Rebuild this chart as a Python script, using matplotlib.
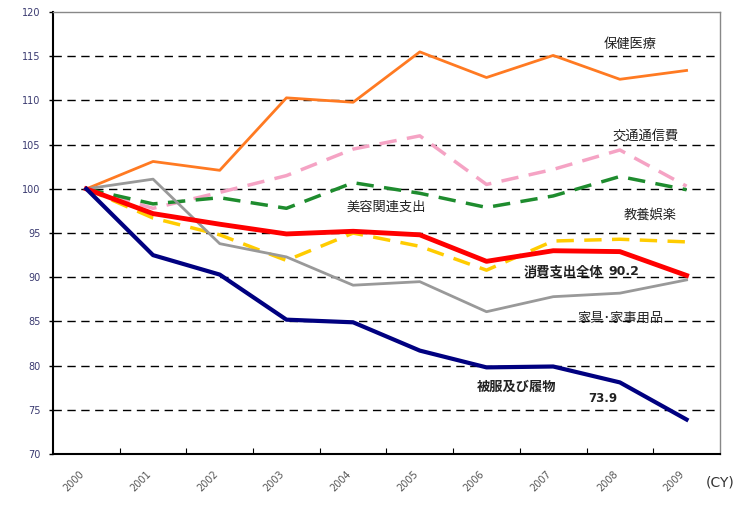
import matplotlib
matplotlib.use("Agg")
import matplotlib.pyplot as plt
import numpy as np

plt.rcParams['font.family'] = ['Noto Sans CJK JP', 'DejaVu Sans']

years = ['2000', '2001', '2002', '2003', '2004', '2005', '2006', '2007', '2008', '2009']

health = [100, 103.1, 102.1, 110.3, 109.8, 115.5, 112.6, 115.1, 112.4, 113.4]
transport = [100, 97.8, 99.6, 101.5, 104.5, 106.0, 100.5, 102.2, 104.4, 100.3]
education = [100, 98.3, 99.0, 97.8, 100.7, 99.5, 97.9, 99.2, 101.4, 99.9]
total = [100, 97.2, 96.0, 94.9, 95.2, 94.8, 91.8, 93.0, 92.9, 90.2]
beauty = [100, 96.7, 94.8, 91.9, 95.0, 93.5, 90.8, 94.1, 94.3, 94.0]
furniture = [100, 101.1, 93.8, 92.3, 89.1, 89.5, 86.1, 87.8, 88.2, 89.7]
clothing = [100, 92.5, 90.3, 85.2, 84.9, 81.7, 79.8, 79.9, 78.1, 73.9]

yticks = [70, 75, 80, 85, 90, 95, 100, 105, 110, 115, 120]

fig = plt.figure(figsize=(7.51, 5.05), dpi=100)
ax = fig.add_axes([0.0706, 0.101, 0.888, 0.875])

x = np.arange(len(years))

for v in yticks[1:-1]:
    ax.axhline(v, color='black', lw=1.0, ls=(0, (6, 4)), zorder=1)

ax.plot(x, health, color='#FF7A22', lw=2.0, zorder=3)
ax.plot(x, transport, color='#F5A3C4', lw=2.5, ls=(0, (5, 3)), zorder=3)
ax.plot(x, education, color='#1E8C2E', lw=2.5, ls=(0, (5, 3)), zorder=3)
ax.plot(x, beauty, color='#FFCC00', lw=2.5, ls=(0, (5, 3)), zorder=3)
ax.plot(x, furniture, color='#999999', lw=2.0, zorder=3)
ax.plot(x, total, color='#FF0000', lw=3.5, zorder=4)
ax.plot(x, clothing, color='#000080', lw=3.0, zorder=4)

ax.set_xlim(-0.5, 9.5)
ax.set_ylim(70, 120)
ax.set_yticks(yticks)
ax.set_yticklabels([str(v) for v in yticks], fontsize=7, color='#3A3A70', family='DejaVu Sans')
ax.tick_params(axis='y', direction='out', length=3, width=1, pad=6)

ax.set_xticks(np.arange(0.5, 9, 1.0))
ax.set_xticklabels([])
ax.tick_params(axis='x', which='major', direction='in', length=4, width=0.8)
ax.set_xticks(x, minor=True)
ax.set_xticklabels(years, minor=True, rotation=45, fontsize=7, color='#555555',
                   family='DejaVu Sans', ha='right', va='top')
ax.tick_params(axis='x', which='minor', length=0, pad=11)

for s in ['top', 'right']:
    ax.spines[s].set_color('#888888')
    ax.spines[s].set_linewidth(1.0)
for s in ['left', 'bottom']:
    ax.spines[s].set_color('black')
    ax.spines[s].set_linewidth(1.5)

tk = dict(fontsize=9.5, color='#222222', ha='center', va='center', zorder=5)
ax.text(8.15, 116.3, '保健医療', **tk)
ax.text(8.38, 105.9, '交通通信費', **tk)
ax.text(4.5, 97.9, '美容関連支出', **tk)
ax.text(8.45, 97.0, '教養娯楽', **tk)
ax.text(7.15, 90.6, '消費支出全体', fontweight='bold', **tk)
ax.text(8.06, 90.6, '90.2', fontsize=9, color='#222222', ha='center', va='center',
        fontweight='bold', family='DejaVu Sans', zorder=5)
ax.text(8.0, 85.4, '家具･家事用品', **tk)
ax.text(6.45, 77.6, '被服及び履物', fontweight='bold', **tk)
ax.text(7.75, 76.3, '73.9', fontsize=8.5, color='#222222', ha='center', va='center',
        fontweight='bold', family='DejaVu Sans', zorder=5)

fig.text(0.94, 0.045, '(CY)', fontsize=10, color='#333333', family='DejaVu Sans',
         ha='left', va='center')

fig.savefig('out.png', dpi=100)
